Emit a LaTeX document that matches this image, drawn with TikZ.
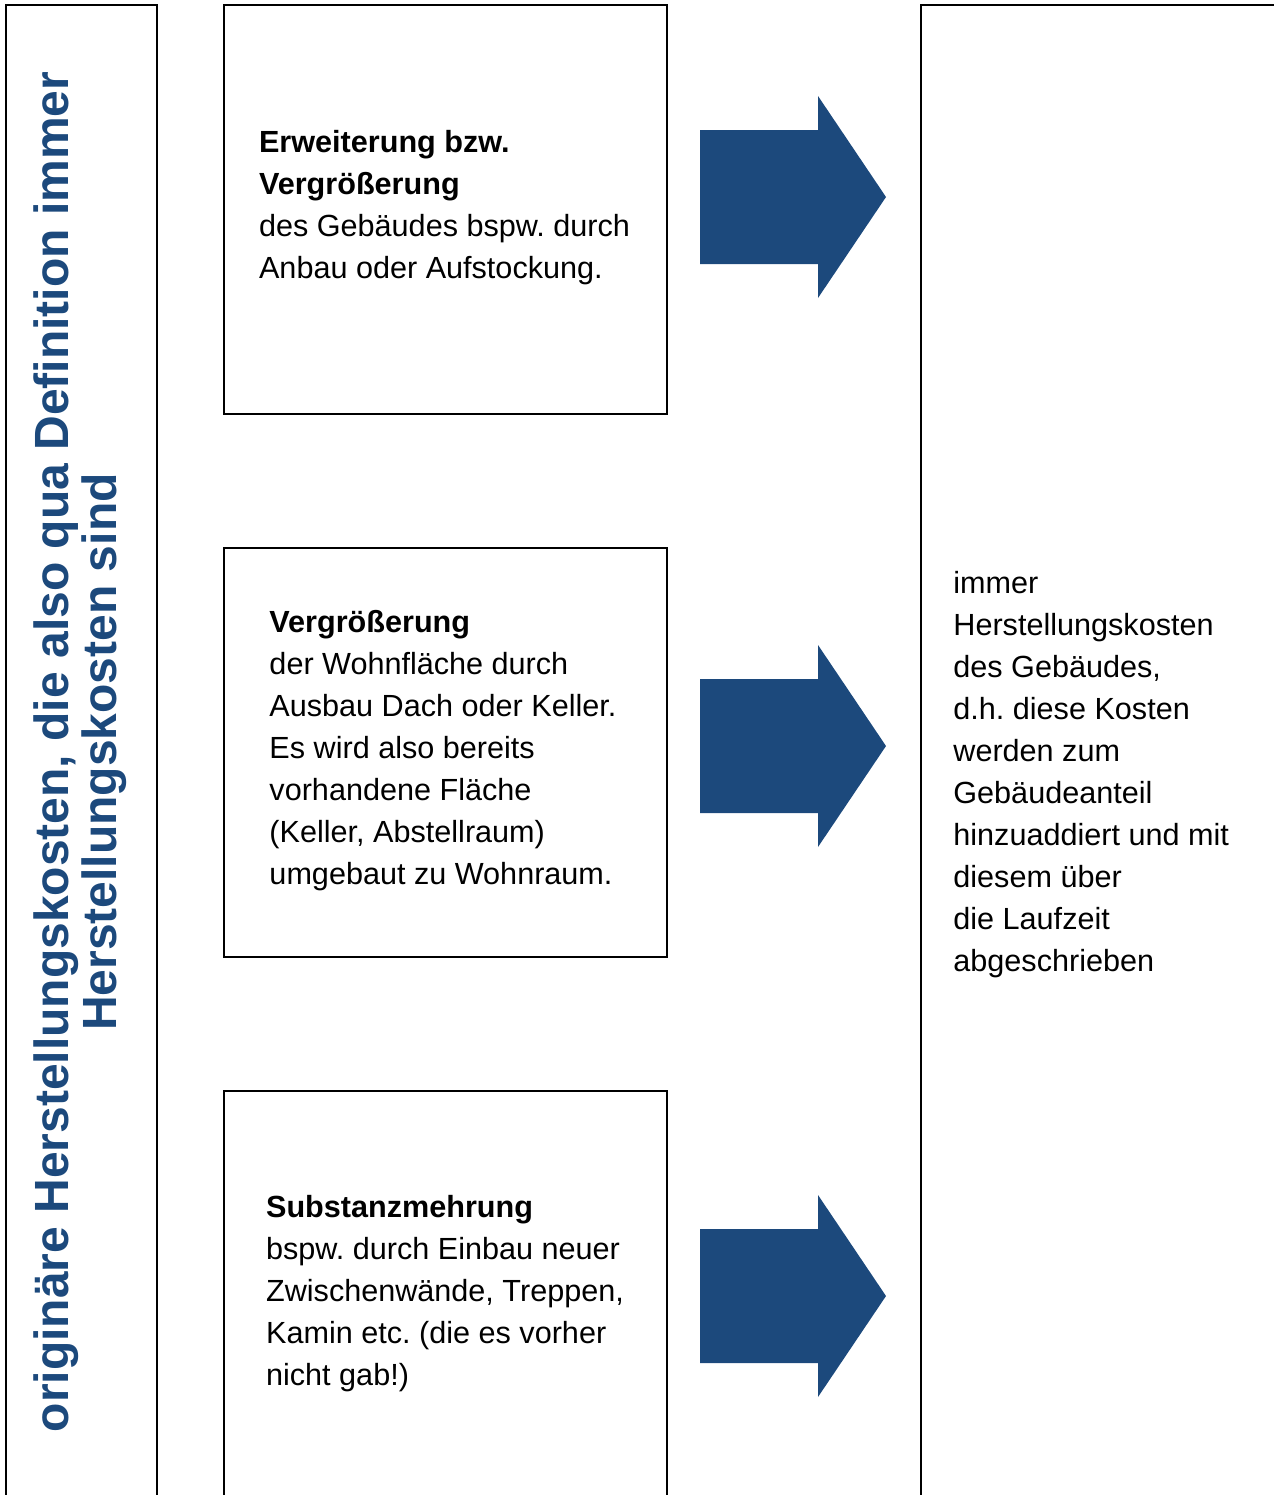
\documentclass[tikz,border=0pt]{standalone}
\usepackage{fontspec}
\setmainfont{Liberation Sans}
\frenchspacing
\definecolor{arrowblue}{RGB}{28,73,124}
\begin{document}
\begin{tikzpicture}[x=0.5pt,y=-0.5pt,
  frame/.style={draw=black,line width=1.2pt},
  bodytext/.style={align=left,inner sep=0pt,font=\fontsize{15.3}{21}\selectfont},
  bigarrow/.style={fill=arrowblue,draw=none},
  sidetext/.style={align=center,inner sep=0pt,rotate=90,text=arrowblue,font=\fontsize{24}{24}\selectfont\bfseries}]
\useasboundingbox (0,0) rectangle (1274,1495);
\clip (0,0) rectangle (1274,1495);
% left vertical box
\draw[frame] (6,1520) -- (6,5) -- (157,5) -- (157,1520);
\node[sidetext] (side) at (80,752) {originäre Herstellungskosten, die also qua Definition immer\\Herstellungskosten sind};
% boxes
\draw[frame] (224,5) rectangle (667,414);
\draw[frame] (224,548) rectangle (667,957);
\draw[frame] (224,1520) -- (224,1091) -- (667,1091) -- (667,1520);
\draw[frame] (921,1520) -- (921,5) -- (1290,5);
\coordinate (b1) at (444.5,207.5);
\coordinate (b2) at (443,750.5);
\coordinate (b3) at (445,1294);
\node[bodytext] (t1) at (b1) {\textbf{Erweiterung bzw.}\\\textbf{Vergrößerung}\\des Gebäudes bspw. durch\\Anbau oder Aufstockung.};
\node[bodytext] (t2) at (b2) {\textbf{Vergrößerung}\\der Wohnfläche durch\\Ausbau Dach oder Keller.\\Es wird also bereits\\vorhandene Fläche\\(Keller, Abstellraum)\\umgebaut zu Wohnraum.};
\node[bodytext] (t3) at (b3) {\textbf{Substanzmehrung}\\bspw. durch Einbau neuer\\Zwischenwände, Treppen,\\Kamin etc. (die es vorher\\nicht gab!)};
\node[bodytext,anchor=west] (t4) at (953,775) {immer\\Herstellungskosten\\des Gebäudes,\\d.h. diese Kosten\\werden zum\\Gebäudeanteil\\hinzuaddiert und mit\\diesem über\\die Laufzeit\\abgeschrieben};
% arrows
\foreach \c/\n in {197/a1,746/a2,1296/a3}{
  \fill[bigarrow] (700,\c-67) -- (818,\c-67) -- (818,\c-101) -- (886,\c) -- (818,\c+101) -- (818,\c+67) -- (700,\c+67) -- cycle;
  \coordinate (\n) at (886,\c);
}
\end{tikzpicture}
\end{document}
